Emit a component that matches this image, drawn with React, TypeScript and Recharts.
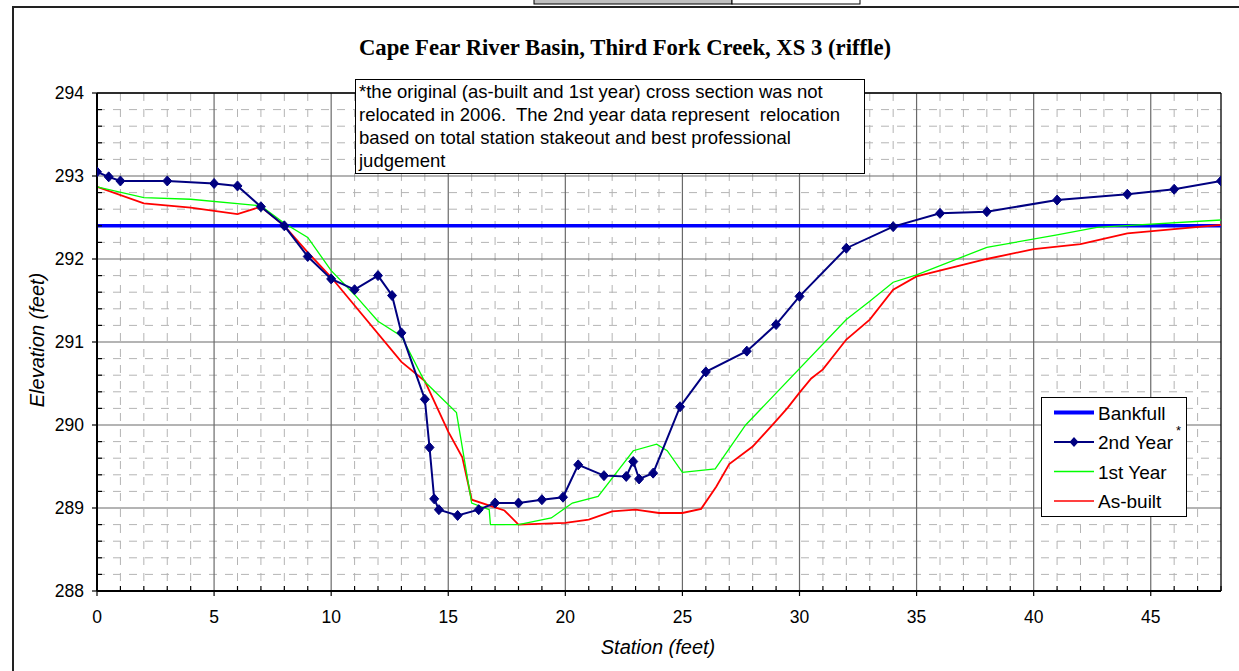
import React from 'react';
import { LineChart, Line, XAxis, YAxis, CartesianGrid, ReferenceLine, Legend } from 'recharts';

// station (ft) / elevation (ft) pairs
const bankfullStation = [0, 48];
const bankfullElev = [292.4, 292.4];

const year2Station = [0, 0.5, 1, 3, 5, 6, 7, 8, 9, 10, 11, 12, 12.6, 13, 14, 14.2, 14.4, 14.6, 15.4, 16.3, 17, 18, 19, 19.9, 20.55, 21.65, 22.6, 22.9, 23.15, 23.75, 24.9, 26, 27.75, 29, 30, 32, 34, 36, 38, 41, 44, 46, 48];
const year2Elev = [293.05, 292.99, 292.94, 292.94, 292.91, 292.88, 292.63, 292.4, 292.03, 291.76, 291.63, 291.8, 291.56, 291.11, 290.31, 289.73, 289.11, 288.98, 288.91, 288.98, 289.06, 289.06, 289.1, 289.13, 289.52, 289.39, 289.38, 289.56, 289.35, 289.42, 290.22, 290.64, 290.89, 291.21, 291.55, 292.13, 292.39, 292.55, 292.57, 292.71, 292.78, 292.84, 292.94];

const year1Station = [0, 2, 4, 7, 8, 9, 10, 11, 12, 13, 14, 15.35, 16, 16.75, 16.8, 18, 19.4, 20.3, 21.4, 22.9, 23.9, 24.35, 25, 26.4, 27.7, 32, 33, 34, 35, 38, 41, 42.7, 48];
const year1Elev = [292.87, 292.74, 292.72, 292.64, 292.43, 292.26, 291.86, 291.57, 291.25, 291.07, 290.52, 290.15, 289.06, 288.98, 288.8, 288.8, 288.88, 289.06, 289.14, 289.69, 289.77, 289.69, 289.43, 289.47, 290.0, 291.27, 291.49, 291.72, 291.81, 292.14, 292.29, 292.38, 292.47];

const asBuiltStation = [0, 2, 4, 6, 7, 8, 9, 10, 13, 14, 15, 15.6, 16, 17.4, 18, 20, 21, 22, 23, 24, 25, 25.8, 26.45, 27, 28, 29, 29.5, 30, 30.5, 31, 32, 33, 34, 35, 38, 40, 42, 44, 48];
const asBuiltElev = [292.87, 292.67, 292.62, 292.54, 292.63, 292.4, 292.08, 291.78, 290.76, 290.53, 289.92, 289.61, 289.1, 288.97, 288.8, 288.82, 288.86, 288.96, 288.98, 288.94, 288.94, 288.99, 289.26, 289.53, 289.74, 290.05, 290.21, 290.39, 290.56, 290.67, 291.03, 291.27, 291.63, 291.79, 292.0, 292.12, 292.18, 292.31, 292.41];

// axis ticks and grid
const stationTicks = [0, 1, 2, 3, 4, 5, 6, 7, 8, 9, 10, 11, 12, 13, 14, 15, 16, 17, 18, 19, 20, 21, 22, 23, 24, 25, 26, 27, 28, 29, 30, 31, 32, 33, 34, 35, 36, 37, 38, 39, 40, 41, 42, 43, 44, 45, 46, 47, 48];
const stationMajor = [0, 5, 10, 15, 20, 25, 30, 35, 40, 45];
const stationMinor = [1, 2, 3, 4, 6, 7, 8, 9, 11, 12, 13, 14, 16, 17, 18, 19, 21, 22, 23, 24, 26, 27, 28, 29, 31, 32, 33, 34, 36, 37, 38, 39, 41, 42, 43, 44, 46, 47];
const elevMajor = [288, 289, 290, 291, 292, 293, 294];
const elevMinor = [288.2, 288.4, 288.6, 288.8, 289.2, 289.4, 289.6, 289.8, 290.2, 290.4, 290.6, 290.8, 291.2, 291.4, 291.6, 291.8, 292.2, 292.4, 292.6, 292.8, 293.2, 293.4, 293.6, 293.8];
const elevTicks = [...elevMajor, ...elevMinor].sort((a, b) => a - b);

const noteLines = [
  '*the original (as-built and 1st year) cross section was not',
  'relocated in 2006.  The 2nd year data represent  relocation',
  'based on total station stakeout and best professional',
  'judgement',
];

const toPoints = (xs: number[], ys: number[]) => xs.map((x, i) => ({ x, y: ys[i] }));

const bankfullData = toPoints(bankfullStation, bankfullElev);
const year2Data = toPoints(year2Station, year2Elev);
const year1Data = toPoints(year1Station, year1Elev);
const asBuiltData = toPoints(asBuiltStation, asBuiltElev);

const SANS = '"Liberation Sans", Arial, sans-serif';
const SERIF = '"Liberation Serif", "Times New Roman", serif';

const isMajor = (v: number, step: number) => Math.abs(v / step - Math.round(v / step)) < 1e-6;

function StationTick(props: any) {
  const { x, y, payload } = props;
  const v = payload.value;
  if (isMajor(v, 5)) {
    return (
      <g>
        <line x1={x} y1={y} x2={x} y2={y + 5} stroke="#000" strokeWidth={1.2} />
        <text x={x} y={y + 32} textAnchor="middle" fontFamily={SANS} fontSize={17.5} fill="#000">{v}</text>
      </g>
    );
  }
  return <line x1={x} y1={y} x2={x} y2={y - 5} stroke="#000" strokeWidth={1.2} />;
}

function ElevTick(props: any) {
  const { x, y, payload } = props;
  const v = payload.value;
  if (isMajor(v, 1)) {
    return (
      <g>
        <line x1={x - 5} y1={y} x2={x} y2={y} stroke="#000" strokeWidth={1.2} />
        <text x={x - 13} y={y + 6.3} textAnchor="end" fontFamily={SANS} fontSize={17.5} fill="#000">{Math.round(v)}</text>
      </g>
    );
  }
  return <line x1={x} y1={y} x2={x + 5} y2={y} stroke="#000" strokeWidth={1.2} />;
}

function Diamond(props: any) {
  const { cx, cy, index } = props;
  if (cx == null || cy == null) return <g key={`d-${index}`} />;
  return (
    <polygon
      key={`d-${index}`}
      points={`${cx},${cy - 5} ${cx + 4.5},${cy} ${cx},${cy + 5} ${cx - 4.5},${cy}`}
      fill="#000080"
      stroke="#000080"
    />
  );
}

const legendRows = [
  { name: 'Bankfull', color: '#0000ff', width: 4, diamond: false },
  { name: '2nd Year', color: '#000080', width: 2, diamond: true },
  { name: '1st Year', color: '#00ff00', width: 1.3, diamond: false },
  { name: 'As-built', color: '#ff0000', width: 1.6, diamond: false },
];

function LegendBox() {
  return (
    <svg width={146} height={120} style={{ display: 'block' }}>
      <rect x={0.5} y={0.5} width={145} height={119} fill="#fff" stroke="#000" strokeWidth={1} />
      {legendRows.map((r, i) => {
        const cy = 15.5 + i * 29.5;
        return (
          <g key={r.name}>
            <line x1={13} y1={cy} x2={53} y2={cy} stroke={r.color} strokeWidth={r.width} />
            {r.diamond && (
              <polygon points={`33,${cy - 5} 37.5,${cy} 33,${cy + 5} 28.5,${cy}`} fill={r.color} />
            )}
            <text x={57} y={cy + 7} fontFamily={SANS} fontSize={19} fill="#000">{r.name}</text>
          </g>
        );
      })}
      <text x={135} y={38} fontFamily={SANS} fontSize={13} fill="#000">*</text>
    </svg>
  );
}

export default function App() {
  return (
    <div style={{ position: 'absolute', left: 0, top: 0, width: 1239, height: 671, overflow: 'hidden', background: '#fff' }}>
      <svg width={1239} height={671} style={{ position: 'absolute', left: 0, top: 0 }}>
        <rect x={534} y={-2} width={198} height={6} fill="#c0c0c0" stroke="#000" strokeWidth={1} />
        <rect x={732} y={-2} width={128} height={6} fill="#fff" stroke="#000" strokeWidth={1} />
        <rect x={13} y={7} width={1240} height={700} fill="#fff" stroke="#222" strokeWidth={2} />
        <text x={625} y={55} textAnchor="middle" fontFamily={SERIF} fontWeight="bold" fontSize={22.7} fill="#000">
          Cape Fear River Basin, Third Fork Creek, XS 3 (riffle)
        </text>
        <text x={43.5} y={340} textAnchor="middle" transform="rotate(-90, 43.5, 340)" fontFamily={SANS} fontStyle="italic" fontSize={20} fill="#000">
          Elevation (feet)
        </text>
        <text x={658} y={654} textAnchor="middle" fontFamily={SANS} fontStyle="italic" fontSize={20} fill="#000">
          Station (feet)
        </text>
      </svg>
      <div style={{ position: 'absolute', left: 0, top: 0 }}>
        <LineChart width={1239} height={671} margin={{ top: 93, right: 18, bottom: 40, left: 37 }}>
          <CartesianGrid verticalValues={stationMinor} horizontalValues={elevMinor} stroke="#b4b4b4" strokeDasharray="8 8" />
          <CartesianGrid verticalValues={stationMajor} horizontalValues={elevMajor} stroke="#6a6a6a" strokeWidth={1.2} />
          <XAxis
            type="number"
            dataKey="x"
            domain={[0, 48]}
            ticks={stationTicks}
            interval={0}
            allowDataOverflow
            height={40}
            tickSize={0}
            tickMargin={0}
            tickLine={false}
            tick={(p: any) => <StationTick {...p} />}
            axisLine={{ stroke: '#000', strokeWidth: 2 }}
          />
          <YAxis
            type="number"
            domain={[288, 294]}
            ticks={elevTicks}
            interval={0}
            allowDataOverflow
            width={60}
            tickSize={0}
            tickMargin={0}
            tickLine={false}
            tick={(p: any) => <ElevTick {...p} />}
            axisLine={{ stroke: '#000', strokeWidth: 2 }}
          />
          <ReferenceLine y={294} stroke="#000" strokeWidth={1.3} />
          <ReferenceLine x={48} stroke="#000" strokeWidth={1.3} />
          <Line data={bankfullData} dataKey="y" name="Bankfull" stroke="#0000ff" strokeWidth={3.5} dot={false} isAnimationActive={false} />
          <Line data={asBuiltData} dataKey="y" name="As-built" stroke="#ff0000" strokeWidth={1.8} dot={false} isAnimationActive={false} />
          <Line data={year1Data} dataKey="y" name="1st Year" stroke="#00ff00" strokeWidth={1.3} dot={false} isAnimationActive={false} />
          <Line data={year2Data} dataKey="y" name="2nd Year" stroke="#000080" strokeWidth={2} dot={(p: any) => <Diamond {...p} />} isAnimationActive={false} />
          <Legend
            layout="vertical"
            align="center"
            verticalAlign="middle"
            content={() => <LegendBox />}
            wrapperStyle={{ left: 1041, top: 397, width: 146, height: 120 }}
          />
        </LineChart>
      </div>
      <div
        style={{
          position: 'absolute',
          left: 355,
          top: 79,
          width: 510,
          height: 95,
          boxSizing: 'border-box',
          border: '1.3px solid #000',
          background: '#fff',
          fontFamily: SANS,
          fontSize: 18.5,
          lineHeight: '23px',
          paddingLeft: 3,
          whiteSpace: 'pre',
          color: '#000',
        }}
      >
        {noteLines.map((l) => (
          <div key={l}>{l}</div>
        ))}
      </div>
    </div>
  );
}
